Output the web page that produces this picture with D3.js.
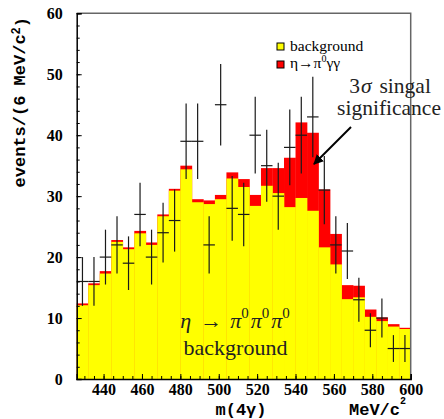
<!DOCTYPE html>
<html>
<head>
<meta charset="utf-8">
<script src="https://cdn.jsdelivr.net/npm/d3@7"></script>
<style>
  body { margin: 0; background: #fff; }
  svg { display: block; }
  text { white-space: pre; }
</style>
</head>
<body>
<svg id="chart" width="444" height="419"></svg>
<script>
// m(4gamma) histogram, 6 MeV bins
const binCenters = [429, 435, 441, 447, 453, 459, 465, 471, 477, 483, 489, 495, 501, 507, 513,
                    519, 525, 531, 537, 543, 549, 555, 561, 567, 573, 579, 585, 591, 597];
const binWidth = 6;
const background = [12.1, 15.4, 17.3, 22.5, 21.3, 23.9, 22.0, 26.7, 30.9, 34.4, 29.0, 28.7, 29.5, 32.9, 31.5,
                    28.4, 31.7, 30.5, 28.2, 29.7, 27.6, 21.6, 18.8, 13.1, 13.4, 10.2, 9.5, 8.6, 8.2];
const signal = [0.3, 0.3, 0.4, 0.3, 0.3, 0.4, 0.4, 0.3, 0.3, 0.6, 0.5, 0.6, 0.7, 1.0, 1.3,
                1.8, 2.9, 4.1, 8.1, 12.4, 12.8, 9.5, 5.0, 2.3, 1.9, 1.2, 0.6, 0.4, 0.2];
const dataCounts = [16, 16, 20, 22, 19, 27, 20, 24, 26, 39, 39, 22, 45, 28, 27,
                    40, 35, 30, 38, 40, 43, 31, 22, 21, 13, 8, 10, 5, 5];
const dataErrors = [4, 4, 4.5, 4.7, 4.4, 5.2, 4.5, 4.9, 5.1, 6.2, 6.2, 4.7, 6.7, 5.3, 5.2,
                    6.3, 5.9, 5.5, 6.2, 6.3, 6.6, 5.6, 4.7, 4.6, 3.6, 2.8, 3.2, 2.2, 2.2];
const xTicks = [440, 460, 480, 500, 520, 540, 560, 580, 600];
const yTicks = [0, 10, 20, 30, 40, 50, 60];

const svg = d3.select("#chart");
const pLeft = 76.7, pRight = 410.7, pTop = 13.3, pBottom = 379;

const x = d3.scaleLinear().domain([426, 600]).range([pLeft, pRight]);
const y = d3.scaleLinear().domain([0, 60]).range([pBottom, pTop]);

const bins = binCenters.map((c, i) => ({
  x0: c - binWidth / 2, x1: c + binWidth / 2, c: c,
  bg: background[i], tot: background[i] + signal[i],
  n: dataCounts[i], err: dataErrors[i]
}));

// total (signal on top) in red, background over it in yellow
svg.append("g").selectAll("rect").data(bins).join("rect")
  .attr("x", d => x(d.x0))
  .attr("width", d => x(d.x1) - x(d.x0) + 0.3)
  .attr("y", d => y(d.tot))
  .attr("height", d => y(0) - y(d.tot))
  .attr("fill", "#ff0000");

svg.append("g").selectAll("rect").data(bins).join("rect")
  .attr("x", d => x(d.x0))
  .attr("width", d => x(d.x1) - x(d.x0) + 0.3)
  .attr("y", d => y(d.bg))
  .attr("height", d => y(0) - y(d.bg))
  .attr("fill", "#ffff00");

// data points with error bars
const pts = svg.append("g").attr("stroke", "#1a1a1a").attr("stroke-width", 1.2);
bins.forEach(d => {
  pts.append("line")
    .attr("x1", x(d.x0)).attr("x2", x(d.x1))
    .attr("y1", y(d.n)).attr("y2", y(d.n));
  pts.append("line")
    .attr("x1", x(d.c)).attr("x2", x(d.c))
    .attr("y1", y(d.n + d.err)).attr("y2", y(d.n - d.err));
});

// frame
svg.append("path")
  .attr("d", `M${pLeft},${pTop}H${pRight}V${pBottom}`)
  .attr("fill", "none").attr("stroke", "#666").attr("stroke-width", 1.5);

// axes, ticks pointing inward
const tickFont = "'Liberation Serif', 'Times New Roman', serif";

svg.append("g").attr("transform", `translate(0,${pBottom})`)
  .call(d3.axisBottom(x).tickValues(d3.range(430, 601, 5)).tickSize(-3).tickFormat(""))
  .call(g => g.select(".domain").remove());
const xAx = svg.append("g").attr("transform", `translate(0,${pBottom})`)
  .call(d3.axisBottom(x).tickValues(xTicks).tickSize(-5).tickPadding(5).tickFormat(d3.format("d")));
xAx.select(".domain").attr("stroke-width", 1.5);
xAx.selectAll("text").attr("font-family", tickFont).attr("font-weight", "bold")
  .attr("font-size", 16).attr("fill", "#000");

svg.append("g").attr("transform", `translate(${pLeft},0)`)
  .call(d3.axisLeft(y).tickValues(d3.range(0, 61, 2)).tickSize(-3).tickFormat(""))
  .call(g => g.select(".domain").remove());
const yAx = svg.append("g").attr("transform", `translate(${pLeft},0)`)
  .call(d3.axisLeft(y).tickValues(yTicks).tickSize(-5).tickPadding(14).tickFormat(d3.format("d")));
yAx.select(".domain").attr("stroke-width", 1.5);
yAx.selectAll("text").attr("font-family", tickFont).attr("font-weight", "bold")
  .attr("font-size", 16).attr("fill", "#000");

// axis titles
const monoFont = "'Liberation Mono', 'Courier New', monospace";
const yTitle = svg.append("text")
  .attr("transform", "translate(25,17) rotate(-90)")
  .attr("text-anchor", "end")
  .attr("font-family", monoFont).attr("font-weight", "bold").attr("font-size", 17);
yTitle.append("tspan").text("events/(6 MeV/c");
yTitle.append("tspan").attr("dy", "-0.45em").attr("font-size", 12).text("2");
yTitle.append("tspan").attr("dy", "0.45em").text(")");

svg.append("text")
  .attr("x", 241).attr("y", 415)
  .attr("text-anchor", "middle")
  .attr("font-family", monoFont).attr("font-weight", "bold").attr("font-size", 17)
  .text("m(4γ)");
const unit = svg.append("text")
  .attr("x", 349).attr("y", 415)
  .attr("font-family", monoFont).attr("font-weight", "bold").attr("font-size", 17);
unit.append("tspan").text("MeV/c");
unit.append("tspan").attr("dy", -11.5).attr("font-size", 10).text("2");

// legend
const serif = "'Liberation Serif', 'Times New Roman', serif";
const legend = [
  { color: "#ffff00", y: 43 },
  { color: "#ff0000", y: 61 }
];
legend.forEach(l => {
  svg.append("rect").attr("x", 277).attr("y", l.y).attr("width", 7).attr("height", 7)
    .attr("fill", l.color).attr("stroke", "#000").attr("stroke-width", 1);
});
svg.append("text").attr("x", 290).attr("y", 51)
  .attr("font-family", serif).attr("font-size", 15.5).text("background");
const sigLab = svg.append("text").attr("x", 290).attr("y", 68)
  .attr("font-family", serif).attr("font-size", 15.5);
sigLab.append("tspan").text("η→π");
sigLab.append("tspan").attr("dy", -6.5).attr("font-size", 10).text("0");
sigLab.append("tspan").attr("dy", 6.5).text("γγ");

// annotation
const ann = svg.append("text").attr("text-anchor", "middle")
  .attr("font-family", serif).attr("font-size", 21.5).attr("fill", "#222");
ann.append("tspan").attr("x", 390).attr("y", 93).text("3");
ann.append("tspan").attr("font-style", "italic").attr("dx", 1).text("σ");
ann.append("tspan").attr("dx", 8).text("singal");
svg.append("text").attr("x", 389).attr("y", 115).attr("text-anchor", "middle")
  .attr("font-family", serif).attr("font-size", 21.5).attr("fill", "#222")
  .text("significance");

svg.append("defs").append("marker")
  .attr("id", "head").attr("viewBox", "0 0 10 10")
  .attr("refX", 9).attr("refY", 5)
  .attr("markerWidth", 5).attr("markerHeight", 5)
  .attr("orient", "auto")
  .append("path").attr("d", "M0,0L10,5L0,10Z").attr("fill", "#000");
svg.append("line")
  .attr("x1", 351).attr("y1", 127).attr("x2", 314).attr("y2", 164)
  .attr("stroke", "#000").attr("stroke-width", 2)
  .attr("marker-end", "url(#head)");

// channel label
const ch = svg.append("text").attr("x", 235).attr("y", 328).attr("text-anchor", "middle")
  .attr("font-family", serif).attr("font-size", 22).attr("fill", "#222");
ch.append("tspan").attr("font-style", "italic").text("η");
ch.append("tspan").attr("dx", 9).text("→");
[0, 1, 2].forEach(k => {
  ch.append("tspan").attr("font-style", "italic")
    .attr("dx", k === 0 ? 8 : 2).attr("dy", k === 0 ? 0 : 10).text("π");
  ch.append("tspan").attr("dy", -10).attr("font-size", 15).text("0");
});
svg.append("text").attr("x", 235.5).attr("y", 355).attr("text-anchor", "middle")
  .attr("font-family", serif).attr("font-size", 22).attr("fill", "#222")
  .text("background");
</script>
</body>
</html>
